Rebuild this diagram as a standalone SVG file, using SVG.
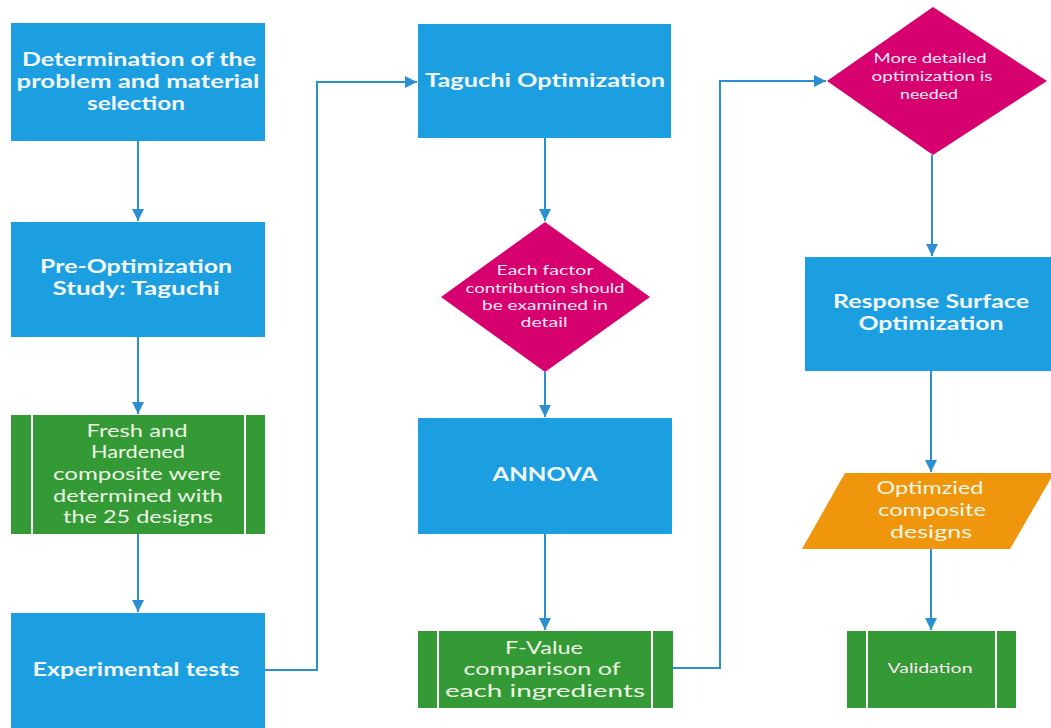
<svg xmlns="http://www.w3.org/2000/svg" width="1051" height="728" viewBox="0 0 1051 728">
<style>
.blue{fill:#1c9fe0}
.green{fill:#339a35}
.mag{fill:#d6006f}
.orange{fill:#f0960c}
.div{stroke:#ffffff;stroke-width:2;fill:none}
.tb{font-family:Lato,"Open Sans",sans-serif;font-weight:bold;font-size:18px;fill:#f2f8ff;text-anchor:middle}
.tr{font-family:Lato,"Open Sans",sans-serif;font-size:17px;fill:#eef6e6;text-anchor:middle}
.ts{font-family:Lato,"Open Sans",sans-serif;font-size:14px;fill:#fbe8f2;text-anchor:middle}
.conn{stroke:#2a90d2;stroke-width:2;fill:none}
</style>
<defs>
<marker id="ah" viewBox="0 0 10 10" refX="10" refY="5" markerWidth="6" markerHeight="6" orient="auto" markerUnits="strokeWidth">
<path d="M0,0 L10,5 L0,10 z" fill="#2a90d2"/>
</marker>
</defs>
<rect width="1051" height="728" fill="#ffffff"/>

<g id="connectors">
<line class="conn" x1="138" y1="141" x2="138" y2="221" marker-end="url(#ah)"/>
<line class="conn" x1="138" y1="337" x2="138" y2="414" marker-end="url(#ah)"/>
<line class="conn" x1="138" y1="534" x2="138" y2="612" marker-end="url(#ah)"/>
<polyline class="conn" points="265,670 317,670 317,82 417,82" marker-end="url(#ah)"/>
<line class="conn" x1="545" y1="138" x2="545" y2="221" marker-end="url(#ah)"/>
<line class="conn" x1="545" y1="372" x2="545" y2="417" marker-end="url(#ah)"/>
<line class="conn" x1="545" y1="534" x2="545" y2="630" marker-end="url(#ah)"/>
<polyline class="conn" points="673,668 720,668 720,81 826,81" marker-end="url(#ah)"/>
<line class="conn" x1="932" y1="155" x2="932" y2="256" marker-end="url(#ah)"/>
<line class="conn" x1="931" y1="371" x2="931" y2="472" marker-end="url(#ah)"/>
<line class="conn" x1="931" y1="549" x2="931" y2="630" marker-end="url(#ah)"/>
</g>

<g id="n1">
<rect class="blue" x="11" y="23" width="254" height="118"/>
<text class="tb" x="139" y="66" textLength="234" lengthAdjust="spacingAndGlyphs">Determination of the</text>
<text class="tb" x="138" y="88" textLength="243" lengthAdjust="spacingAndGlyphs">problem and material</text>
<text class="tb" x="136" y="110" textLength="98" lengthAdjust="spacingAndGlyphs">selection</text>
</g>

<g id="n2">
<rect class="blue" x="11" y="222" width="254" height="115"/>
<text class="tb" x="136" y="273" textLength="192" lengthAdjust="spacingAndGlyphs">Pre-Optimization</text>
<text class="tb" x="136" y="295" textLength="167" lengthAdjust="spacingAndGlyphs">Study: Taguchi</text>
</g>

<g id="n3">
<rect class="green" x="11" y="415" width="254" height="119"/>
<line class="div" x1="32" y1="415" x2="32" y2="534"/>
<line class="div" x1="245" y1="415" x2="245" y2="534"/>
<text class="tr" x="137" y="437" textLength="101" lengthAdjust="spacingAndGlyphs">Fresh and</text>
<text class="tr" x="138" y="458" textLength="94" lengthAdjust="spacingAndGlyphs">Hardened</text>
<text class="tr" x="137" y="480" textLength="168" lengthAdjust="spacingAndGlyphs">composite were</text>
<text class="tr" x="138" y="502" textLength="170" lengthAdjust="spacingAndGlyphs">determined with</text>
<text class="tr" x="138" y="523" textLength="150" lengthAdjust="spacingAndGlyphs">the 25 designs</text>
</g>

<g id="n4">
<rect class="blue" x="11" y="613" width="254" height="120"/>
<text class="tb" x="136" y="676" textLength="207" lengthAdjust="spacingAndGlyphs">Experimental tests</text>
</g>

<g id="n5">
<rect class="blue" x="418" y="24" width="253" height="114"/>
<text class="tb" x="545" y="87" textLength="240" lengthAdjust="spacingAndGlyphs">Taguchi Optimization</text>
</g>

<g id="n6">
<polygon class="mag" points="545,222 650,297 545,372 441,297"/>
<text class="ts" x="545" y="275" textLength="97" lengthAdjust="spacingAndGlyphs">Each factor</text>
<text class="ts" x="545" y="293" textLength="159" lengthAdjust="spacingAndGlyphs">contribution should</text>
<text class="ts" x="545" y="310" textLength="126" lengthAdjust="spacingAndGlyphs">be examined in</text>
<text class="ts" x="544" y="327" textLength="47" lengthAdjust="spacingAndGlyphs">detail</text>
</g>

<g id="n7">
<rect class="blue" x="418" y="418" width="254" height="116"/>
<text class="tb" x="545" y="481" textLength="105" lengthAdjust="spacingAndGlyphs">ANNOVA</text>
</g>

<g id="n8">
<rect class="green" x="418" y="631" width="255" height="77"/>
<line class="div" x1="438" y1="631" x2="438" y2="708"/>
<line class="div" x1="652" y1="631" x2="652" y2="708"/>
<text class="tr" x="544" y="654" textLength="78" lengthAdjust="spacingAndGlyphs">F-Value</text>
<text class="tr" x="542" y="675" textLength="157" lengthAdjust="spacingAndGlyphs">comparison of</text>
<text class="tr" x="545" y="697" textLength="200" lengthAdjust="spacingAndGlyphs">each ingredients</text>
</g>

<g id="n9">
<polygon class="mag" points="933,7 1047,81 933,155 827,81"/>
<text class="ts" x="930" y="63" textLength="113" lengthAdjust="spacingAndGlyphs">More detailed</text>
<text class="ts" x="932" y="81" textLength="121" lengthAdjust="spacingAndGlyphs">optimization is</text>
<text class="ts" x="929" y="99" textLength="58" lengthAdjust="spacingAndGlyphs">needed</text>
</g>

<g id="n10">
<rect class="blue" x="805" y="257" width="250" height="114"/>
<text class="tb" x="931" y="308" textLength="196" lengthAdjust="spacingAndGlyphs">Response Surface</text>
<text class="tb" x="931" y="330" textLength="145" lengthAdjust="spacingAndGlyphs">Optimization</text>
</g>

<g id="n11">
<polygon class="orange" points="845,473 1054,473 1010,549 802,549"/>
<text class="tr" x="930" y="494" textLength="107" lengthAdjust="spacingAndGlyphs">Optimzied</text>
<text class="tr" x="932" y="516" textLength="108" lengthAdjust="spacingAndGlyphs">composite</text>
<text class="tr" x="931" y="538" textLength="82" lengthAdjust="spacingAndGlyphs">designs</text>
</g>

<g id="n12">
<rect class="green" x="847" y="631" width="169" height="77"/>
<line class="div" x1="867" y1="631" x2="867" y2="708"/>
<line class="div" x1="996" y1="631" x2="996" y2="708"/>
<text class="ts" x="930" y="673" textLength="85" lengthAdjust="spacingAndGlyphs">Validation</text>
</g>
</svg>
